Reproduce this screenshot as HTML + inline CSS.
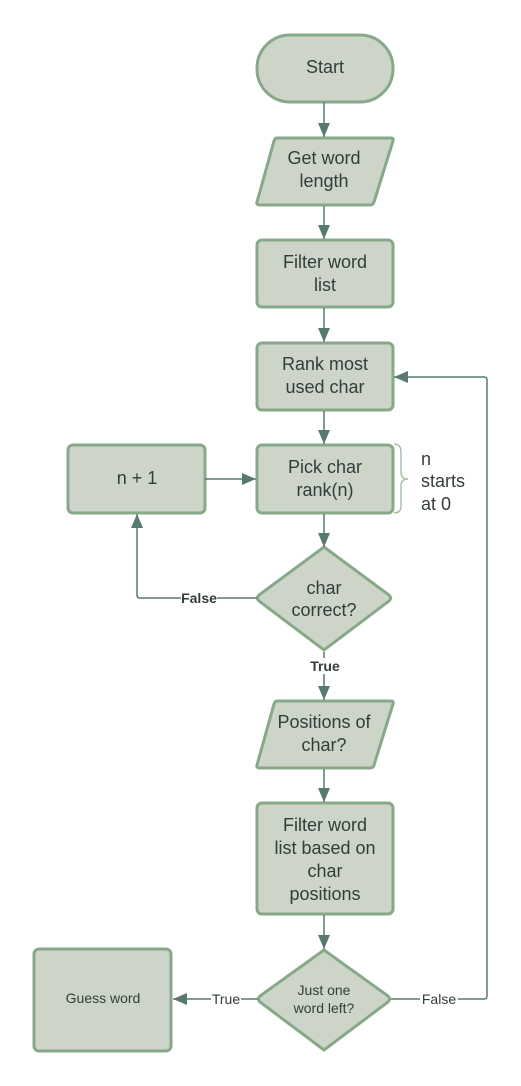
<!DOCTYPE html>
<html><head><meta charset="utf-8"><style>
html,body{margin:0;padding:0;background:#fff;}
svg{display:block;}
text{font-family:"Liberation Sans",sans-serif;fill:#333d3a;}
</style></head><body>
<svg width="521" height="1086" viewBox="0 0 521 1086" xmlns="http://www.w3.org/2000/svg">
<defs>
<marker id="a" viewBox="0 0 14 12" refX="14" refY="6" markerWidth="14" markerHeight="12" markerUnits="userSpaceOnUse" orient="auto">
<path d="M0,0 L14,6 L0,12 z" fill="#587a6e"/></marker>
</defs>
<g fill="#ccd5c8" stroke="#88a88a" stroke-width="3">
<rect x="257" y="35" width="136" height="67" rx="33"/>
<path d="M277,138 L391,138 Q394,138 393,141 L374,202 Q373,205 370,205 L260,205 Q256,205 257,202 L274,141 Q275,138 277,138 z"/>
<rect x="257" y="240" width="136" height="67" rx="5"/>
<rect x="257" y="343" width="136" height="67" rx="5"/>
<rect x="257" y="445" width="136" height="68" rx="5"/>
<rect x="68" y="445" width="137" height="68" rx="5"/>
<path d="M324,547 L389,595 Q392,598 389,601 L324,650 L259,601 Q256,598 259,595 z"/>
<path d="M277,701 L391,701 Q394,701 393,704 L374,765 Q373,768 370,768 L260,768 Q256,768 257,765 L274,704 Q275,701 277,701 z"/>
<rect x="257" y="803" width="136" height="111" rx="5"/>
<path d="M324,950 L388,996 Q391,999 388,1002 L324,1050 L260,1002 Q257,999 260,996 z"/>
<rect x="34" y="949" width="137" height="102" rx="5"/>
</g>
<path d="M394,444 Q401,444 401,452 L401,472 Q401,479 408,479 Q401,479 401,486 L401,506 Q401,513 394,513" fill="none" stroke="#a8c0a8" stroke-width="1.5"/>
<g stroke="#587a6e" stroke-width="1.5" fill="none" marker-end="url(#a)">
<line x1="324" y1="102" x2="324" y2="137"/>
<line x1="324" y1="206" x2="324" y2="239"/>
<line x1="324" y1="308" x2="324" y2="342"/>
<line x1="324" y1="411" x2="324" y2="444"/>
<line x1="205" y1="479" x2="256" y2="479"/>
<line x1="324" y1="514" x2="324" y2="547"/>
<path d="M257,598 L140,598 Q137,598 137,595 L137,514"/>
<line x1="324" y1="652" x2="324" y2="700"/>
<line x1="324" y1="769" x2="324" y2="802"/>
<line x1="324" y1="915" x2="324" y2="949"/>
<line x1="258" y1="999" x2="173" y2="999"/>
<path d="M391,999 L484,999 Q487,999 487,996 L487,380 Q487,377 484,377 L394,377"/>
</g>
<g font-size="18" text-anchor="middle">
<text x="325" y="73">Start</text>
<text x="324" y="164">Get word</text><text x="324" y="187">length</text>
<text x="325" y="268">Filter word</text><text x="325" y="291">list</text>
<text x="325" y="370">Rank most</text><text x="325" y="393">used char</text>
<text x="325" y="473">Pick char</text><text x="325" y="496">rank(n)</text>
<text x="137" y="484">n + 1</text>
<text x="324" y="594">char</text><text x="324" y="616">correct?</text>
<text x="324" y="728">Positions of</text><text x="324" y="751">char?</text>
<text x="325" y="831">Filter word</text><text x="325" y="854">list based on</text><text x="325" y="877">char</text><text x="325" y="900">positions</text>
</g>
<g font-size="18"><text x="421" y="465">n</text><text x="421" y="487">starts</text><text x="421" y="510">at 0</text></g>
<g font-size="14" text-anchor="middle">
<text x="324" y="995">Just one</text><text x="324" y="1013">word left?</text>
<text x="103" y="1003">Guess word</text>
</g>
<rect x="181" y="590" width="36" height="16" fill="#fff"/>
<text x="199" y="603" font-size="14" font-weight="bold" text-anchor="middle">False</text>
<rect x="310" y="658" width="30" height="16" fill="#fff"/>
<text x="325" y="671" font-size="14" font-weight="bold" text-anchor="middle">True</text>
<rect x="211" y="991" width="30" height="16" fill="#fff"/>
<text x="226" y="1004" font-size="14" text-anchor="middle">True</text>
<rect x="420" y="991" width="38" height="16" fill="#fff"/>
<text x="439" y="1004" font-size="14" text-anchor="middle">False</text>
</svg>
</body></html>
